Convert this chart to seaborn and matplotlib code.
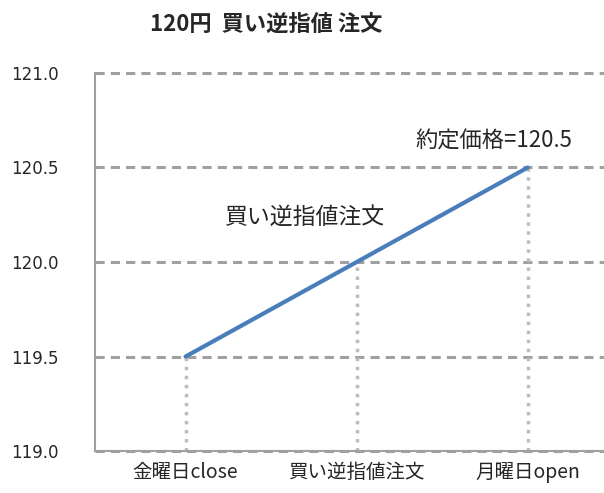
import matplotlib
matplotlib.use("Agg")
import matplotlib.pyplot as plt
import seaborn as sns
import pandas as pd

categories = ["金曜日close", "買い逆指値注文", "月曜日open"]
prices = [119.5, 120.0, 120.5]
yticks = [119.0, 119.5, 120.0, 120.5, 121.0]
title = "120円  買い逆指値 注文"
label_order = "買い逆指値注文"
label_fill = "約定価格=120.5"

sns.set_theme(style="white")
plt.rcParams['font.family'] = ['Noto Sans CJK JP', 'DejaVu Sans']

df = pd.DataFrame({"cat": range(len(categories)), "price": prices})

fig = plt.figure(figsize=(6.04, 4.93), dpi=100)
ax = fig.add_axes([0.157, 0.085, 0.85, 0.767])

for y in yticks:
    ax.axhline(y, color="#A0A0A0", lw=2.2, ls=(0, (3, 2)), zorder=1, clip_on=False)

ax.vlines(df["cat"], yticks[0], df["price"], colors="#BDBDBD", lw=2.5,
          linestyles=(0, (1, 1.6)), zorder=2)

sns.lineplot(data=df, x="cat", y="price", ax=ax, color="#4A7EBB", lw=3, zorder=3)

ax.set_xlim(-0.53, 2.47)
ax.set_ylim(yticks[0], yticks[-1])
ax.set_yticks(yticks)
ax.set_yticklabels([f"{v:.1f}" for v in yticks], fontsize=12, family="DejaVu Sans")
ax.set_xticks(range(len(categories)))
ax.set_xticklabels(categories, fontsize=14)
ax.tick_params(axis="y", length=0, pad=26)
ax.tick_params(axis="x", length=0, pad=8)
ax.set_xlabel("")
ax.set_ylabel("")

for s in ["top", "right"]:
    ax.spines[s].set_visible(False)
for s in ["left", "bottom"]:
    ax.spines[s].set_color("#A0A0A0")
    ax.spines[s].set_linewidth(1.5)

ax.text(0.70, 120.23, label_order, fontsize=16.5, ha="center", va="center")
ax.text(1.80, 120.64, label_fill, fontsize=16, ha="center", va="center")

fig.text(0.44, 0.95, title, fontsize=16, fontweight="bold", ha="center", va="center")

fig.savefig("out.png", dpi=100)
